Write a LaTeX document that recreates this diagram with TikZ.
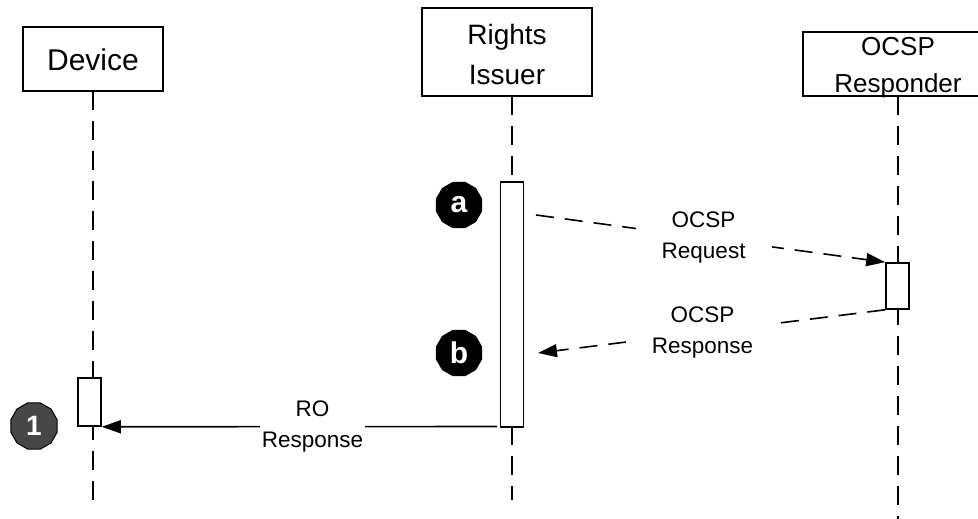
\documentclass[tikz,border=0pt]{standalone}
\usepackage{fontspec}
\setmainfont{Liberation Sans}
\usetikzlibrary{arrows.meta,shapes.geometric}
\begin{document}
\begin{tikzpicture}[x=1pt,y=-1pt,
  objbox/.style={draw, line width=1.6pt, fill=white, inner sep=0pt},
  act/.style={draw, line width=1.6pt, fill=white, minimum width=23pt, inner sep=0pt},
  life/.style={line width=1.6pt, dash pattern=on 19pt off 11pt},
  tip/.style={-{Triangle[length=19pt,width=13pt]}},
  msg/.style={line width=1.6pt, dash pattern=on 18pt off 11pt, tip},
  solidmsg/.style={line width=1.6pt, tip},
  mlabel/.style={fill=white, align=center, font=\fontsize{22.5}{31}\selectfont, inner ysep=2pt},
  badge/.style={regular polygon, regular polygon sides=12, minimum size=48pt, inner sep=0pt,
    fill=black, text=white, font=\bfseries\fontsize{30}{30}\selectfont},
  greybadge/.style={badge, fill=black!72, draw=black, line width=1pt, font=\bfseries\fontsize{28}{28}\selectfont}
]
\useasboundingbox (0,0) rectangle (978,519);

% object boxes
\node[objbox, minimum width=140pt, minimum height=64pt] (dev) at (93,59) {};
\node[font=\fontsize{30}{30}\selectfont] (devt) at (93,60) {Device};
\node[objbox, minimum width=170pt, minimum height=88pt] (ri) at (507,52) {};
\node[align=center, font=\fontsize{28}{40}\selectfont] (rit) at (507,54) {Rights\\Issuer};
\node[objbox, minimum width=190pt, minimum height=64pt] (oc) at (898,64) {};

% lifelines
\coordinate (devtop) at (93,91);
\coordinate (devbot) at (93,500);
\coordinate (ritop) at (512,96);
\coordinate (ribot) at (512,500);
\coordinate (octop) at (898,96);
\coordinate (ocbot) at (898,519);
\draw[life] (devtop) -- (devbot);
\draw[life] (ritop) -- (ribot);
\draw[life] (octop) -- (ocbot);

\node[align=center, font=\fontsize{26}{37}\selectfont] (oct) at (898,68) {OCSP\\Responder};

% activations
\node[act, minimum height=245pt] (riact) at (512,304.5) {};
\node[act, minimum height=46pt] (ocact) at (897.5,286) {};
\node[act, minimum height=48pt] (devact) at (89.5,402) {};

% messages
\coordinate (reqs) at (536,215);
\coordinate (rese) at (538,353);
\coordinate (ros) at (497,426.5);
\draw[msg] (reqs) -- node[mlabel, pos=0.48, inner xsep=26pt] (reql) {OCSP\\Request} (ocact.north west);
\draw[msg] (ocact.south west) -- node[mlabel, pos=0.526, inner xsep=26pt] (resl) {OCSP\\Response} (rese);
\draw[solidmsg] (ros) -- node[mlabel, pos=0.467, inner xsep=2pt] (rol) {RO\\Response} (devact.south east);

% badges
\node[badge] (ba) at (459,205) {a};
\node[badge] (bb) at (459,353) {b};
\node[greybadge] (b1) at (34,426) {1};
\end{tikzpicture}
\end{document}
